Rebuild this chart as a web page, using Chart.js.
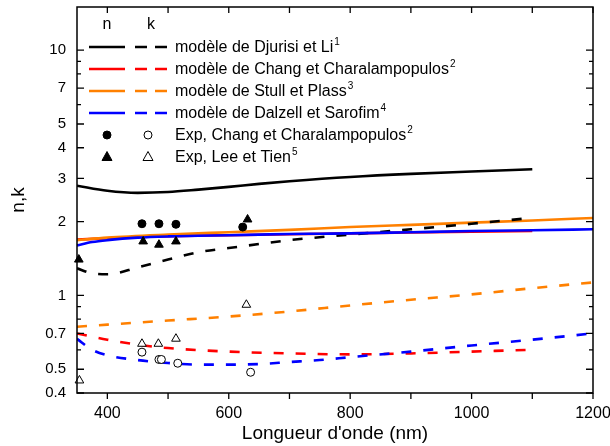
<!DOCTYPE html>
<html>
<head>
<meta charset="utf-8">
<script src="https://cdn.jsdelivr.net/npm/chart.js@4"></script>
<style>
  html, body { margin: 0; padding: 0; background: #fff; }
  #wrap { width: 610px; height: 446px; }
</style>
</head>
<body>
<div id="wrap"><canvas id="nkChart"></canvas></div>
<script>
// wavelengths (nm) and values
const lamDjurisiN = [350, 400, 450, 500, 550, 600, 650, 700, 800, 900, 1000, 1100];
const nDjurisi    = [2.8, 2.67, 2.62, 2.64, 2.7, 2.77, 2.85, 2.92, 3.04, 3.13, 3.2, 3.27];
const lamDjurisiK = [350, 375, 400, 450, 500, 550, 600, 650, 700, 800, 900, 1000, 1090];
const kDjurisi    = [1.29, 1.23, 1.22, 1.3, 1.4, 1.5, 1.56, 1.62, 1.68, 1.77, 1.86, 1.96, 2.06];

const lamChang = [350, 400, 450, 500, 600, 700, 800, 900, 1000, 1100];
const nChang   = [1.69, 1.71, 1.73, 1.745, 1.76, 1.775, 1.79, 1.805, 1.82, 1.83];
const kChang   = [0.70, 0.66, 0.63, 0.61, 0.59, 0.58, 0.575, 0.58, 0.59, 0.6];

const lamStull = [350, 400, 500, 600, 700, 800, 900, 1000, 1100, 1200];
const nStull   = [1.68, 1.72, 1.77, 1.81, 1.85, 1.9, 1.94, 1.98, 2.02, 2.07];
const kStull   = [0.745, 0.76, 0.79, 0.82, 0.86, 0.91, 0.96, 1.01, 1.07, 1.13];

const lamDalzell = [350, 375, 400, 450, 500, 550, 600, 650, 700, 750, 800, 900, 1000, 1100, 1200];
const nDalzell   = [1.6, 1.65, 1.68, 1.72, 1.74, 1.75, 1.76, 1.77, 1.78, 1.785, 1.79, 1.81, 1.83, 1.845, 1.86];
const kDalzell   = [0.665, 0.6, 0.57, 0.545, 0.53, 0.522, 0.522, 0.525, 0.535, 0.545, 0.56, 0.59, 0.625, 0.66, 0.70];

// experimental points
const lamExpChangN = [457, 485, 513, 623];
const expChangN    = [1.96, 1.96, 1.95, 1.9];
const lamExpChangK = [457, 485, 489, 516, 636];
const expChangK    = [0.587, 0.548, 0.548, 0.529, 0.486];
const lamExpLeeN   = [353, 459, 485, 513, 631];
const expLeeN      = [1.40, 1.66, 1.61, 1.66, 2.04];
const lamExpLeeK   = [354, 457, 484, 513, 629];
const expLeeK      = [0.45, 0.635, 0.635, 0.666, 0.916];

// axes
const xTicks = [400, 500, 600, 700, 800, 900, 1000, 1100, 1200];
const xLabels = [400, 600, 800, 1000, 1200];
const yTicks = [0.4, 0.5, 0.6, 0.7, 0.8, 0.9, 1, 2, 3, 4, 5, 6, 7, 8, 9, 10];
const yLabels = [0.4, 0.5, 0.7, 1, 2, 3, 4, 5, 7, 10];

const FONT = "'Liberation Sans', Arial, sans-serif";
const BLACK = '#000000', RED = '#ff0000', ORANGE = '#ff8000', BLUE = '#0000ff';
const DASH = [10, 12];

const pts = (xs, ys) => xs.map((x, i) => ({ x: x, y: ys[i] }));

function lineSet(label, xs, ys, color, dashed, order) {
  return {
    label: label,
    data: pts(xs, ys),
    showLine: true,
    borderColor: color,
    backgroundColor: color,
    borderWidth: 2.6,
    borderDash: dashed ? DASH : [],
    pointRadius: 0,
    cubicInterpolationMode: 'monotone',
    order: order
  };
}

function markSet(label, xs, ys, style, filled) {
  return {
    label: label,
    data: pts(xs, ys),
    showLine: false,
    pointStyle: style,
    pointRadius: style === 'triangle' ? 5 : 4,
    borderWidth: 1,
    borderColor: BLACK,
    backgroundColor: filled ? BLACK : '#ffffff',
    clip: 10,
    order: 0
  };
}

const legendRows = [
  { text: 'modèle de Djurisi et Li', sup: '1', color: BLACK },
  { text: 'modèle de Chang et Charalampopulos', sup: '2', color: RED },
  { text: 'modèle de Stull et Plass', sup: '3', color: ORANGE },
  { text: 'modèle de Dalzell et Sarofim', sup: '4', color: BLUE },
  { text: 'Exp, Chang et Charalampopulos', sup: '2', marker: 'circle' },
  { text: 'Exp, Lee et Tien', sup: '5', marker: 'triangle' }
];

function drawMarker(ctx, kind, x, y, filled) {
  ctx.beginPath();
  if (kind === 'circle') {
    ctx.arc(x, y, 4, 0, Math.PI * 2);
  } else {
    ctx.moveTo(x, y - 5.5);
    ctx.lineTo(x + 5, y + 3.5);
    ctx.lineTo(x - 5, y + 3.5);
    ctx.closePath();
  }
  ctx.fillStyle = filled ? BLACK : '#fff';
  ctx.fill();
  ctx.lineWidth = 1;
  ctx.strokeStyle = BLACK;
  ctx.stroke();
}

const framePlugin = {
  id: 'frame',
  afterDraw(chart) {
    const { ctx, chartArea: a, scales } = chart;
    const x = scales.x, y = scales.y;
    ctx.save();
    ctx.strokeStyle = BLACK;
    ctx.lineWidth = 1.5;
    ctx.strokeRect(a.left, a.top, a.right - a.left, a.bottom - a.top);
    ctx.lineWidth = 1.3;
    ctx.beginPath();
    yTicks.forEach(v => {
      const p = y.getPixelForValue(v);
      const len = yLabels.includes(v) ? 7 : 4;
      ctx.moveTo(a.left, p); ctx.lineTo(a.left + len, p);
      ctx.moveTo(a.right, p); ctx.lineTo(a.right - len, p);
    });
    xTicks.forEach(v => {
      const p = x.getPixelForValue(v);
      ctx.moveTo(p, a.bottom); ctx.lineTo(p, a.bottom + 6);
      ctx.moveTo(p, a.top); ctx.lineTo(p, a.top + 6);
    });
    ctx.stroke();

    // legend
    ctx.fillStyle = BLACK;
    ctx.textBaseline = 'middle';
    ctx.textAlign = 'center';
    ctx.font = '16px ' + FONT;
    ctx.fillText('n', 107, 25);
    ctx.fillText('k', 151, 25);
    ctx.textAlign = 'left';
    legendRows.forEach((r, i) => {
      const ry = 47 + i * 22;
      if (r.marker) {
        drawMarker(ctx, r.marker, 107, ry, true);
        drawMarker(ctx, r.marker, 148, ry, false);
      } else {
        ctx.strokeStyle = r.color;
        ctx.lineWidth = 2.6;
        ctx.setLineDash([]);
        ctx.beginPath();
        ctx.moveTo(89, ry); ctx.lineTo(125, ry);
        ctx.stroke();
        ctx.setLineDash([12, 8]);
        ctx.beginPath();
        ctx.moveTo(135, ry); ctx.lineTo(167, ry);
        ctx.stroke();
        ctx.setLineDash([]);
      }
      ctx.fillStyle = BLACK;
      ctx.font = '16px ' + FONT;
      ctx.fillText(r.text, 175, ry + 1);
      const w = ctx.measureText(r.text).width;
      ctx.font = '10px ' + FONT;
      ctx.fillText(r.sup, 175 + w + 1, ry - 5);
    });
    ctx.restore();
  }
};

new Chart(document.getElementById('nkChart'), {
  type: 'scatter',
  data: {
    datasets: [
      markSet('Exp Chang n', lamExpChangN, expChangN, 'circle', true),
      markSet('Exp Chang k', lamExpChangK, expChangK, 'circle', false),
      markSet('Exp Lee n', lamExpLeeN, expLeeN, 'triangle', true),
      markSet('Exp Lee k', lamExpLeeK, expLeeK, 'triangle', false),
      lineSet('Dalzell n', lamDalzell, nDalzell, BLUE, false, 1),
      lineSet('Dalzell k', lamDalzell, kDalzell, BLUE, true, 1),
      lineSet('Stull n', lamStull, nStull, ORANGE, false, 2),
      lineSet('Stull k', lamStull, kStull, ORANGE, true, 2),
      lineSet('Chang n', lamChang, nChang, RED, false, 3),
      lineSet('Chang k', lamChang, kChang, RED, true, 3),
      lineSet('Djurisi n', lamDjurisiN, nDjurisi, BLACK, false, 1),
      lineSet('Djurisi k', lamDjurisiK, kDjurisi, BLACK, true, 1)
    ]
  },
  options: {
    responsive: true,
    maintainAspectRatio: false,
    animation: false,
    layout: { padding: { left: 0, right: 17, top: 7, bottom: 0 } },
    plugins: {
      legend: { display: false },
      tooltip: { enabled: false }
    },
    scales: {
      x: {
        type: 'linear',
        min: 350,
        max: 1200,
        afterBuildTicks: s => { s.ticks = xTicks.map(v => ({ value: v })); },
        afterFit: s => { s.height = 53; s.paddingLeft = 0; s.paddingRight = 0; },
        grid: { display: false, drawTicks: false },
        border: { display: false },
        ticks: {
          autoSkip: false,
          maxRotation: 0,
          padding: 11,
          color: BLACK,
          font: { family: FONT, size: 16 },
          callback: v => xLabels.includes(v) ? String(v) : ''
        },
        title: {
          display: true,
          text: "Longueur d'onde (nm)",
          color: BLACK,
          font: { family: FONT, size: 19 },
          padding: { top: 0, bottom: 1 }
        }
      },
      y: {
        type: 'logarithmic',
        min: 0.4,
        max: 15,
        afterBuildTicks: s => { s.ticks = yTicks.map(v => ({ value: v })); },
        afterFit: s => { s.width = 77; s.paddingTop = 0; s.paddingBottom = 0; },
        grid: { display: false, drawTicks: false },
        border: { display: false },
        ticks: {
          autoSkip: false,
          padding: 11,
          color: BLACK,
          font: { family: FONT, size: 15 },
          callback: v => yLabels.includes(v) ? String(v) : ''
        },
        title: {
          display: true,
          text: 'n,k',
          color: BLACK,
          font: { family: FONT, size: 19 },
          padding: { top: 7, bottom: 0 }
        }
      }
    }
  },
  plugins: [framePlugin]
});
</script>
</body>
</html>
